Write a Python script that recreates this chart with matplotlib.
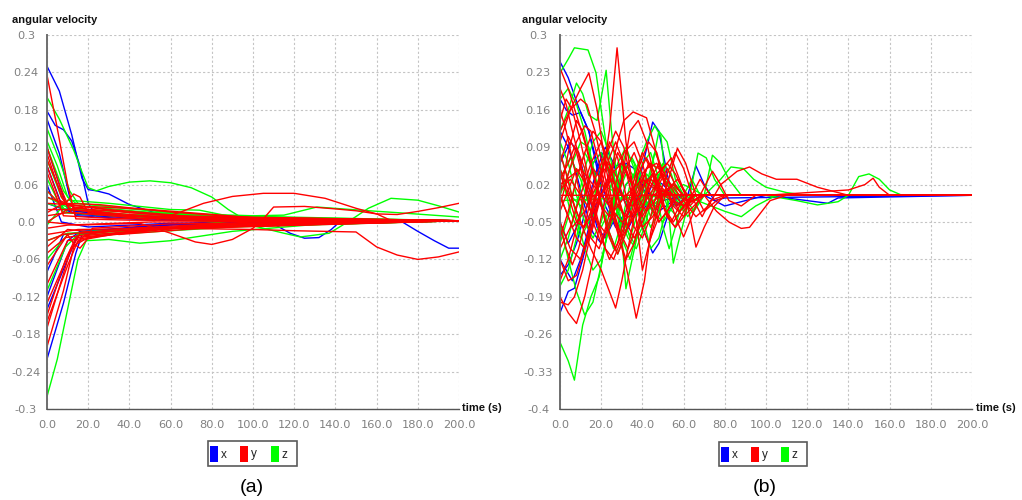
import matplotlib
matplotlib.use("Agg")
import matplotlib.pyplot as plt
from matplotlib.patches import Rectangle

# ---------------- data ----------------
x_ticks = [0, 20, 40, 60, 80, 100, 120, 140, 160, 180, 200]
x_tick_labels = ["0.0", "20.0", "40.0", "60.0", "80.0", "100.0", "120.0",
                 "140.0", "160.0", "180.0", "200.0"]

a_y_ticks = [0.3, 0.24, 0.18, 0.12, 0.06, 0.0, -0.06, -0.12, -0.18, -0.24, -0.3]
a_y_labels = ["0.3", "0.24", "0.18", "0.12", "0.06", "0.0", "-0.06", "-0.12",
              "-0.18", "-0.24", "-0.3"]
b_y_ticks = [0.3, 0.23, 0.16, 0.09, 0.02, -0.05, -0.12, -0.19, -0.26, -0.33, -0.4]
b_y_labels = ["0.3", "0.23", "0.16", "0.09", "0.02", "-0.05", "-0.12", "-0.19",
              "-0.26", "-0.33", "-0.4"]

legend_labels = ["x", "y", "z"]
series_colors = ["#0000ff", "#ff0000", "#00ff00"]

# (a) x component
a_x_lines = [
    [(0, 0.25), (6, 0.21), (12, 0.14), (17, 0.07), (20, 0.052), (24, 0.05), (30, 0.045),
     (40, 0.028), (55, 0.012), (80, 0.003), (200, 0.002)],
    [(0, 0.178), (4, 0.155), (8, 0.148), (12, 0.13), (16, 0.09), (20, 0.03), (24, 0.01),
     (60, 0.004), (200, 0.002)],
    [(0, 0.165), (6, 0.11), (11, 0.04), (14, 0.01), (50, 0.003), (200, 0.002)],
    [(0, 0.12), (5, 0.07), (10, 0.02), (40, 0.006), (200, 0.002)],
    [(0, 0.09), (8, 0.02), (30, 0.01), (200, 0.002)],
    [(0, 0.06), (7, 0.0), (20, -0.008), (60, -0.002), (200, 0.002)],
    [(0, -0.08), (8, -0.02), (30, -0.012), (80, 0.0), (200, 0.002)],
    [(0, -0.12), (10, -0.03), (16, -0.015), (60, -0.004), (200, 0.002)],
    [(0, -0.14), (10, -0.06), (15, -0.02), (50, -0.005), (200, 0.002)],
    [(0, -0.22), (8, -0.13), (14, -0.05), (17, -0.02), (40, -0.01), (200, 0.002)],
    [(0, 0.03), (15, 0.012), (60, 0.004), (110, -0.003), (118, -0.018), (125, -0.026),
     (132, -0.025), (138, -0.012), (142, 0.0), (172, 0.001), (180, -0.015), (188, -0.03),
     (195, -0.042), (200, -0.042)],
]

# (a) z component
a_z_lines = [
    [(0, 0.20), (6, 0.165), (13, 0.115), (17, 0.08), (20, 0.055), (24, 0.05), (30, 0.057),
     (40, 0.064), (50, 0.066), (60, 0.063), (70, 0.055), (80, 0.04), (88, 0.02),
     (95, 0.006), (105, 0.002), (200, 0.002)],
    [(0, 0.15), (6, 0.10), (11, 0.05), (15, 0.03), (40, 0.022), (80, 0.01), (120, 0.004),
     (200, 0.002)],
    [(0, 0.13), (5, 0.09), (10, 0.04), (14, 0.03), (50, 0.018), (100, 0.006), (200, 0.002)],
    [(0, 0.12), (8, 0.05), (13, 0.027), (60, 0.012), (200, 0.002)],
    [(0, 0.10), (7, 0.04), (12, 0.02), (40, 0.012), (200, 0.002)],
    [(0, 0.07), (8, 0.015), (50, 0.006), (200, 0.002)],
    [(0, 0.03), (10, 0.02), (30, 0.018), (70, 0.012), (100, 0.005), (200, 0.002)],
    [(0, -0.03), (10, -0.018), (40, -0.015), (80, -0.006), (200, 0.002)],
    [(0, -0.06), (10, -0.02), (20, -0.015), (60, -0.01), (200, 0.002)],
    [(0, -0.11), (9, -0.04), (15, -0.02), (40, -0.018), (90, -0.008), (200, 0.002)],
    [(0, -0.28), (5, -0.22), (10, -0.14), (15, -0.06), (19, -0.03), (30, -0.028),
     (45, -0.034), (60, -0.03), (90, -0.015), (130, -0.004), (200, 0.002)],
    [(0, 0.05), (10, 0.015), (60, 0.006), (100, -0.006), (115, -0.018), (123, -0.024),
     (137, -0.018), (146, 0.0), (156, 0.022), (167, 0.038), (180, 0.035), (190, 0.026),
     (200, 0.016)],
    [(0, 0.04), (12, 0.02), (60, 0.014), (100, 0.01), (115, 0.011), (131, 0.024),
     (152, 0.019), (170, 0.015), (200, 0.008)],
    [(0, -0.005), (10, 0.035), (30, 0.03), (60, 0.02), (74, 0.019), (95, 0.005), (200, 0.002)],
]

# (a) y component
a_y_lines = [
    [(0, 0.236), (5, 0.15), (10, 0.06), (14, 0.005), (40, 0.003), (200, 0.002)],
    [(0, 0.12), (6, 0.06), (11, 0.02), (40, 0.01), (200, 0.002)],
    [(0, 0.10), (9, 0.03), (13, 0.045), (16, 0.04), (20, 0.015), (60, 0.005), (200, 0.002)],
    [(0, 0.08), (8, 0.01), (30, 0.006), (200, 0.002)],
    [(0, 0.05), (6, 0.03), (30, 0.02), (80, 0.006), (200, 0.002)],
    [(0, 0.03), (10, 0.028), (40, 0.015), (90, 0.004), (200, 0.002)],
    [(0, 0.02), (12, 0.02), (40, 0.012), (80, 0.003), (200, 0.002)],
    [(0, 0.01), (10, 0.015), (50, 0.008), (200, 0.002)],
    [(0, -0.01), (10, -0.005), (50, 0.0), (200, 0.002)],
    [(0, -0.03), (8, -0.02), (40, -0.01), (100, 0.0), (200, 0.002)],
    [(0, -0.05), (9, -0.025), (30, -0.015), (80, -0.004), (200, 0.002)],
    [(0, -0.07), (10, -0.02), (13, -0.035), (16, -0.042), (19, -0.03), (22, -0.01),
     (60, -0.003), (200, 0.002)],
    [(0, -0.10), (10, -0.03), (30, -0.02), (70, -0.006), (200, 0.002)],
    [(0, -0.13), (12, -0.04), (20, -0.025), (60, -0.01), (200, 0.002)],
    [(0, -0.16), (10, -0.07), (15, -0.03), (40, -0.015), (100, -0.002), (200, 0.002)],
    [(0, -0.20), (8, -0.11), (13, -0.04), (18, -0.022), (50, -0.012), (200, 0.002)],
    [(0, 0.04), (12, 0.025), (40, 0.008), (52, 0.002), (64, 0.015), (76, 0.03), (90, 0.041),
     (105, 0.046), (120, 0.046), (135, 0.038), (150, 0.022), (160, 0.013), (166, 0.004),
     (200, 0.002)],
    [(0, 0.0), (15, -0.005), (45, -0.002), (60, -0.018), (72, -0.032), (80, -0.036),
     (90, -0.028), (100, -0.01), (105, 0.005), (110, 0.024), (125, 0.025), (140, 0.021),
     (150, 0.018), (160, 0.013), (170, 0.012), (180, 0.017), (190, 0.023), (200, 0.03)],
    [(0, -0.02), (15, -0.012), (60, -0.01), (100, -0.012), (120, -0.014), (150, -0.016),
     (160, -0.04), (170, -0.053), (180, -0.06), (190, -0.056), (200, -0.048)],
    [(0, 0.0), (10, 0.02), (20, 0.025), (50, 0.02), (100, 0.007), (200, 0.002)],
    [(0, 0.11), (7, 0.04), (12, 0.015), (45, 0.006), (200, 0.002)],
    [(0, 0.09), (6, 0.035), (14, 0.022), (60, 0.01), (200, 0.002)],
    [(0, -0.15), (9, -0.06), (14, -0.025), (70, -0.008), (200, 0.002)],
    [(0, -0.17), (11, -0.05), (16, -0.018), (55, -0.01), (200, 0.002)],
    [(0, 0.015), (8, 0.03), (25, 0.028), (60, 0.016), (110, 0.004), (200, 0.002)],
    [(0, -0.04), (10, -0.012), (35, -0.02), (75, -0.01), (120, -0.002), (200, 0.002)],
]

# (b) x component
b_x_lines = [
    [(0, 0.25), (4, 0.22), (9, 0.165), (14, 0.12), (18, 0.06), (22, 0.0), (26, -0.05),
     (30, -0.06), (35, -0.02), (40, 0.01), (45, 0.0), (50, -0.01), (60, 0.0), (200, 0.0)],
    [(0, 0.18), (3, 0.16), (6, 0.15), (10, 0.155), (14, 0.12), (18, 0.05), (22, -0.02),
     (27, -0.06), (32, -0.03), (38, 0.02), (45, 0.137), (48, 0.12), (52, 0.04), (56, -0.02),
     (62, 0.0), (66, 0.055), (70, 0.02), (75, -0.01), (80, -0.005), (200, 0.0)],
    [(0, -0.22), (4, -0.18), (7, -0.174), (11, -0.12), (15, -0.06), (20, 0.0), (25, 0.05),
     (30, 0.06), (35, 0.02), (40, -0.06), (45, -0.108), (48, -0.09), (53, -0.03), (58, 0.0),
     (200, 0.0)],
    [(0, -0.15), (4, -0.13), (8, -0.09), (13, -0.02), (18, 0.05), (22, 0.09), (26, 0.06),
     (30, 0.0), (35, -0.04), (40, -0.02), (46, 0.03), (50, 0.02), (55, 0.0), (200, 0.0)],
    [(0, 0.06), (5, 0.1), (9, 0.08), (14, 0.0), (18, -0.06), (22, -0.08), (27, -0.04),
     (32, 0.02), (37, 0.04), (42, 0.0), (48, -0.03), (55, -0.01), (60, 0.0), (200, 0.0)],
    [(0, -0.12), (6, -0.16), (10, -0.12), (14, -0.06), (19, 0.0), (25, 0.03), (30, 0.0),
     (35, -0.04), (40, -0.03), (45, 0.0), (70, 0.0), (80, -0.02), (90, -0.01), (100, 0.0),
     (120, -0.01), (130, -0.015), (135, -0.005), (200, 0.0)],
    [(0, 0.12), (4, 0.09), (8, 0.04), (12, -0.02), (16, -0.07), (20, -0.09), (24, -0.05),
     (28, 0.01), (32, 0.06), (36, 0.05), (40, 0.0), (45, -0.03), (50, 0.0), (200, 0.0)],
    [(0, -0.05), (4, -0.09), (8, -0.06), (12, 0.0), (16, 0.06), (20, 0.08), (24, 0.04),
     (28, -0.03), (32, -0.07), (36, -0.04), (40, 0.02), (45, 0.04), (50, 0.0), (200, 0.0)],
]

# (b) y component
b_y_lines = [
    [(0, 0.238), (4, 0.2), (8, 0.15), (12, 0.1), (16, 0.04), (20, -0.02), (24, -0.08),
     (28, -0.11), (32, -0.07), (37, 0.0), (42, 0.05), (47, 0.06), (52, 0.02), (57, -0.02),
     (62, 0.0), (200, 0.0)],
    [(0, 0.1), (5, 0.16), (10, 0.2), (14, 0.229), (18, 0.16), (22, 0.06), (26, -0.03),
     (30, -0.08), (34, -0.05), (38, 0.0), (42, 0.03), (48, 0.01), (55, 0.0), (200, 0.0)],
    [(0, 0.0), (6, -0.06), (12, -0.03), (18, 0.02), (22, 0.07), (24, 0.122), (27.7, 0.276),
     (32, 0.1), (36, 0.0), (40, -0.06), (45, -0.04), (50, 0.0), (55, 0.02), (60, 0.0),
     (200, 0.0)],
    [(0, -0.05), (5, -0.1), (10, -0.12), (15, -0.06), (20, 0.0), (25, 0.05), (28, 0.1),
     (31, 0.14), (35.5, 0.156), (42, 0.145), (46, 0.09), (50, 0.03), (55, -0.02),
     (60, -0.04), (65, -0.02), (70, 0.0), (200, 0.0)],
    [(0, -0.19), (4, -0.22), (8, -0.24), (12, -0.19), (16, -0.12), (20, -0.04), (24, 0.03),
     (28, 0.08), (32, 0.05), (37, 0.0), (42, -0.03), (48, 0.0), (200, 0.0)],
    [(0, -0.2), (4, -0.205), (7, -0.19), (11, -0.14), (15, -0.07), (19, 0.0), (23, 0.06),
     (27, 0.1), (31, 0.06), (35, 0.0), (40, -0.04), (45, 0.0), (50, 0.01), (56, 0.0),
     (200, 0.0)],
    [(0, 0.05), (5, 0.0), (10, -0.05), (15, -0.1), (20, -0.14), (24, -0.18), (27, -0.211),
     (30, -0.16), (34, -0.08), (38, 0.0), (43, 0.06), (48, 0.05), (53, 0.0), (58, -0.03),
     (64, -0.01), (70, 0.0), (200, 0.0)],
    [(0, 0.12), (5, 0.16), (10, 0.18), (13, 0.17), (17, 0.12), (21, 0.05), (25, -0.02),
     (29, -0.08), (33, -0.15), (37, -0.23), (41, -0.16), (44, -0.07), (48, 0.0), (52, 0.04),
     (56, 0.08), (60, 0.05), (65, -0.01), (69, -0.04), (73, -0.01), (80, 0.0), (200, 0.0)],
    [(0, 0.0), (4, 0.08), (8, 0.14), (11, 0.12), (15, 0.06), (19, 0.0), (23, -0.06),
     (27, -0.1), (31, -0.06), (35, 0.0), (39, 0.06), (43, 0.1), (47, 0.08), (51, 0.02),
     (56, -0.04), (60, -0.078), (64, -0.04), (68, 0.0), (74, 0.045), (78, 0.02),
     (82, -0.01), (88, -0.02), (95, 0.0), (200, 0.0)],
    [(0, -0.08), (4, -0.03), (8, 0.03), (12, 0.08), (16, 0.12), (20, 0.1), (24, 0.04),
     (28, -0.02), (32, -0.04), (36, 0.0), (40, 0.04), (44, 0.06), (48, 0.02), (52, -0.04),
     (56, -0.06), (60, -0.04), (64, 0.0), (68, 0.03), (73, 0.0), (200, 0.0)],
    [(0, 0.0), (4, -0.04), (8, -0.08), (12, -0.1), (16, -0.06), (20, 0.0), (25, 0.04),
     (30, 0.06), (35, 0.02), (40, -0.14), (44, -0.08), (48, -0.02), (52, 0.02), (57, 0.088),
     (61, 0.06), (66, 0.0), (70, -0.03), (76, -0.01), (82, 0.0), (200, 0.0)],
    [(0, 0.03), (4, 0.06), (8, 0.1), (12, 0.13), (15, 0.12), (19, 0.06), (23, 0.0),
     (28, -0.06), (33, -0.1), (37, -0.06), (42, 0.0), (47, 0.04), (52, 0.06), (56, 0.04),
     (61, 0.0), (66, -0.097), (70, -0.06), (75, -0.02), (80, 0.0), (200, 0.0)],
    [(0, 0.02), (10, 0.05), (20, 0.0), (30, -0.05), (40, -0.02), (50, 0.04), (58, 0.0),
     (66, -0.04), (72, -0.02), (78, 0.02), (86, 0.045), (92, 0.053), (98, 0.04),
     (105, 0.03), (115, 0.03), (125, 0.015), (135, 0.005), (140, 0.0), (200, 0.0)],
    [(0, -0.03), (8, 0.05), (16, 0.0), (24, -0.04), (32, 0.0), (40, 0.03), (50, 0.0),
     (60, -0.02), (70, 0.0), (76, -0.03), (82, -0.05), (88, -0.062), (92, -0.06),
     (96, -0.04), (102, -0.01), (110, 0.0), (200, 0.0)],
    [(0, 0.0), (100, 0.0), (120, 0.005), (140, 0.01), (148, 0.02), (152, 0.032),
     (155, 0.015), (160, 0.0), (200, 0.0)],
    [(0, -0.1), (5, -0.06), (10, 0.0), (15, 0.06), (20, 0.1), (24, 0.06), (28, 0.0),
     (32, -0.05), (36, -0.08), (40, -0.05), (45, 0.0), (50, 0.05), (54, 0.07), (58, 0.03),
     (63, -0.02), (68, 0.0), (200, 0.0)],
    [(0, 0.16), (3, 0.12), (7, 0.05), (11, -0.02), (15, -0.08), (19, -0.1), (23, -0.05),
     (27, 0.02), (31, 0.08), (36, 0.1), (40, 0.06), (44, 0.0), (48, -0.05), (52, -0.03),
     (56, 0.0), (200, 0.0)],
    [(0, 0.2), (3, 0.17), (6, 0.12), (10, 0.06), (14, 0.0), (18, -0.05), (22, -0.07),
     (26, -0.03), (30, 0.03), (34, 0.12), (38, 0.14), (42, 0.1), (46, 0.03), (50, -0.02),
     (54, -0.05), (58, -0.02), (62, 0.0), (200, 0.0)],
    [(0, 0.01), (5, 0.03), (10, 0.0), (15, -0.03), (20, 0.0), (25, 0.03), (30, 0.0),
     (35, -0.02), (40, 0.0), (200, 0.0)],
    [(0, -0.06), (3, -0.1), (6, -0.13), (9, -0.1), (13, -0.04), (17, 0.03), (21, 0.07),
     (25, 0.04), (29, -0.02), (33, -0.06), (37, -0.03), (41, 0.02), (45, 0.04), (50, 0.0),
     (200, 0.0)],
    [(0, 0.08), (3, 0.04), (7, -0.02), (11, -0.06), (15, -0.04), (19, 0.02), (23, 0.08),
     (27, 0.12), (31, 0.09), (35, 0.02), (39, -0.05), (43, -0.09), (47, -0.05), (52, 0.01),
     (57, 0.03), (62, 0.0), (200, 0.0)],
    [(0, -0.12), (4, -0.16), (8, -0.15), (12, -0.1), (16, -0.03), (20, 0.04), (24, 0.1),
     (28, 0.07), (32, 0.0), (36, -0.06), (40, -0.08), (44, -0.04), (48, 0.02), (52, 0.05),
     (56, 0.02), (61, -0.01), (66, 0.0), (200, 0.0)],
    [(0, 0.14), (3, 0.18), (6, 0.16), (10, 0.1), (14, 0.03), (18, -0.04), (22, -0.1),
     (26, -0.12), (30, -0.08), (34, -0.02), (38, 0.04), (42, 0.07), (46, 0.04), (50, -0.02),
     (55, -0.05), (60, -0.02), (65, 0.0), (200, 0.0)],
    [(0, -0.02), (4, 0.04), (8, 0.09), (12, 0.05), (16, -0.02), (20, -0.08), (24, -0.12),
     (28, -0.09), (32, -0.03), (36, 0.03), (40, 0.08), (44, 0.05), (48, 0.0), (52, -0.04),
     (56, -0.06), (60, -0.03), (65, 0.0), (200, 0.0)],
    [(0, 0.04), (4, 0.0), (8, -0.05), (12, -0.06), (16, -0.02), (20, 0.04), (24, 0.06),
     (28, 0.03), (32, -0.02), (36, -0.04), (40, -0.01), (44, 0.03), (48, 0.02), (53, 0.0),
     (200, 0.0)],
    [(0, -0.16), (4, -0.12), (8, -0.06), (12, 0.0), (16, 0.05), (20, 0.03), (24, -0.02),
     (28, -0.07), (32, -0.12), (36, -0.09), (40, -0.03), (44, 0.03), (48, 0.06), (52, 0.03),
     (56, 0.0), (60, -0.02), (64, 0.0), (200, 0.0)],
    [(0, 0.06), (4, 0.11), (8, 0.08), (12, 0.02), (16, -0.05), (20, -0.09), (24, -0.06),
     (28, 0.0), (32, 0.05), (36, 0.08), (40, 0.04), (44, -0.02), (48, -0.05), (52, -0.03),
     (57, 0.0), (200, 0.0)],
]

# (b) z component
b_z_lines = [
    [(0, 0.229), (4, 0.255), (7, 0.276), (13.6, 0.272), (17.5, 0.229), (20, 0.16),
     (23, 0.08), (26, 0.0), (30, -0.08), (34, -0.12), (38, -0.06), (42, 0.02), (46, 0.08),
     (50, 0.05), (55, 0.0), (60, -0.03), (66, 0.0), (200, 0.0)],
    [(0, -0.275), (4, -0.31), (7, -0.346), (11, -0.243), (15, -0.19), (19, -0.153),
     (23, -0.07), (27, 0.0), (31, 0.06), (35, 0.04), (40, 0.0), (45, -0.03), (50, 0.0),
     (200, 0.0)],
    [(0, 0.12), (4, 0.16), (8, 0.21), (11, 0.19), (14, 0.15), (18, 0.14), (22.4, 0.234),
     (25, 0.12), (28, 0.02), (32, -0.175), (35, -0.12), (39, -0.05), (43, 0.02), (48, 0.12),
     (52, 0.1), (56, 0.03), (60, 0.0), (200, 0.0)],
    [(0, -0.05), (4, -0.12), (8, -0.18), (12, -0.224), (16, -0.2), (20, -0.13), (24, -0.05),
     (28, 0.03), (32, 0.08), (36, 0.06), (40, 0.0), (44, -0.04), (49, 0.0), (55, 0.02),
     (60, 0.0), (200, 0.0)],
    [(0, 0.0), (5, 0.05), (10, 0.1), (14, 0.09), (18, 0.02), (22, -0.05), (26, -0.1),
     (30, -0.05), (34, 0.02), (38, 0.06), (42, 0.1), (46, 0.13), (49, 0.11), (52, 0.0),
     (55, -0.127), (58, -0.08), (62, -0.02), (67, 0.079), (71, 0.07), (75, 0.03), (80, 0.0),
     (200, 0.0)],
    [(0, 0.08), (4, 0.03), (8, -0.04), (12, -0.1), (16, -0.14), (20, -0.12), (24, -0.06),
     (28, 0.0), (32, 0.04), (36, 0.02), (40, -0.04), (44, -0.1), (48, -0.08), (52, -0.02),
     (56, 0.02), (60, 0.0), (65, -0.03), (70, 0.0), (74, 0.075), (78, 0.06), (82, 0.03),
     (88, 0.0), (200, 0.0)],
    [(0, -0.12), (4, -0.08), (8, -0.02), (12, 0.05), (16, 0.1), (20, 0.12), (24, 0.08),
     (28, 0.0), (32, -0.06), (36, -0.09), (40, -0.06), (44, 0.0), (48, 0.04), (53, 0.02),
     (58, 0.0), (200, 0.0)],
    [(0, 0.02), (10, -0.02), (20, 0.02), (30, 0.0), (40, -0.02), (50, 0.0), (60, 0.02),
     (70, 0.0), (78, 0.03), (83, 0.053), (89, 0.05), (94, 0.03), (100, 0.015), (110, 0.005),
     (120, 0.0), (200, 0.0)],
    [(0, -0.01), (60, 0.0), (100, 0.0), (115, -0.01), (125, -0.018), (135, -0.012),
     (140, 0.0), (145, 0.035), (150, 0.04), (155, 0.03), (160, 0.01), (166, 0.0), (200, 0.0)],
    [(0, 0.18), (4, 0.2), (8, 0.17), (12, 0.12), (16, 0.05), (20, -0.02), (24, -0.06),
     (28, -0.03), (32, 0.02), (36, 0.04), (40, 0.01), (45, -0.02), (50, 0.0), (200, 0.0)],
    [(0, -0.17), (4, -0.14), (8, -0.08), (12, 0.0), (16, 0.06), (20, 0.08), (24, 0.04),
     (28, -0.03), (33, -0.08), (37, -0.1), (41, -0.06), (45, 0.0), (50, 0.06), (54, 0.04),
     (58, -0.01), (62, -0.04), (66, -0.02), (70, 0.0), (200, 0.0)],
    [(0, 0.05), (5, -0.03), (10, -0.08), (14, -0.05), (18, 0.02), (22, 0.08), (26, 0.04),
     (30, -0.03), (34, -0.08), (38, -0.03), (42, 0.04), (46, 0.02), (50, -0.06), (53, -0.1),
     (56, -0.06), (60, 0.0), (64, 0.03), (68, 0.0), (200, 0.0)],
    [(0, 0.1), (4, 0.06), (8, 0.0), (12, -0.05), (16, -0.08), (20, -0.05), (24, 0.01),
     (28, 0.06), (32, 0.09), (36, 0.05), (40, -0.02), (44, -0.06), (48, -0.03), (52, 0.02),
     (57, 0.0), (200, 0.0)],
    [(0, -0.09), (4, -0.04), (8, 0.03), (12, 0.08), (16, 0.05), (20, -0.01), (24, -0.07),
     (28, -0.11), (32, -0.07), (36, 0.0), (40, 0.06), (44, 0.08), (48, 0.03), (52, -0.02),
     (57, -0.04), (62, 0.0), (200, 0.0)],
    [(0, 0.03), (5, 0.07), (10, 0.03), (15, -0.03), (20, -0.06), (25, -0.02), (30, 0.04),
     (35, 0.07), (40, 0.03), (45, -0.03), (50, -0.05), (55, -0.02), (60, 0.0), (80, -0.03),
     (88, -0.04), (95, -0.02), (105, 0.0), (200, 0.0)],
]

# ---------------- drawing ----------------
W, H = 1022, 500
fig = plt.figure(figsize=(W / 100, H / 100), dpi=100)
fig.patch.set_facecolor("white")

tick_font = dict(family="DejaVu Sans", size=8.2, color="#808080")
label_family = ["Liberation Sans", "DejaVu Sans"]


def px_axes(x0, x1, ytop, ybot):
    return fig.add_axes([x0 / W, 1 - ybot / H, (x1 - x0) / W, (ybot - ytop) / H])


def style_axes(ax, yticks, ylabels, ylim, ypad):
    ax.set_xlim(0, 200)
    ax.set_ylim(*ylim)
    ax.set_xticks(x_ticks)
    ax.set_xticklabels(x_tick_labels, **tick_font)
    ax.set_yticks(yticks)
    ax.set_yticklabels(ylabels, **tick_font)
    for lab in ax.get_yticklabels():
        lab.set_horizontalalignment("center")
    ax.tick_params(axis="y", length=0, pad=ypad)
    ax.tick_params(axis="x", length=0, pad=8)
    ax.grid(True, color="#c4c4c4", linestyle=(0, (2, 2)), linewidth=0.8)
    ax.set_axisbelow(True)
    ax.spines["top"].set_visible(False)
    ax.spines["right"].set_visible(False)
    ax.spines["left"].set_color("#6e6e6e")
    ax.spines["left"].set_linewidth(1.4)
    ax.spines["bottom"].set_color("#555555")
    ax.spines["bottom"].set_linewidth(1.0)


def draw_lines(ax, lines, color):
    for ln in lines:
        ts = [p[0] for p in ln]
        vs = [p[1] for p in ln]
        ax.plot(ts, vs, color=color, linewidth=1.0, solid_joinstyle="round")


axA = px_axes(47, 459, 35, 409)
style_axes(axA, a_y_ticks, a_y_labels, (-0.3, 0.3), 15.1)
draw_lines(axA, a_x_lines, series_colors[0])
draw_lines(axA, a_z_lines, series_colors[2])
draw_lines(axA, a_y_lines, series_colors[1])

axB = px_axes(560, 972, 35, 409)
style_axes(axB, b_y_ticks, b_y_labels, (-0.4, 0.3), 15.8)
draw_lines(axB, b_x_lines, series_colors[0])
draw_lines(axB, b_z_lines, series_colors[2])
draw_lines(axB, b_y_lines, series_colors[1])


def ftext(x, y, s, **kw):
    fig.text(x / W, 1 - y / H, s, **kw)


# axis titles
ftext(12, 20, "angular velocity", ha="left", va="center", fontsize=8,
      fontweight="bold", family=label_family, color="#111111")
ftext(522, 20, "angular velocity", ha="left", va="center", fontsize=8,
      fontweight="bold", family=label_family, color="#111111")
ftext(462, 408, "time (s)", ha="left", va="center", fontsize=8,
      fontweight="bold", family=label_family, color="#111111")
ftext(976, 408, "time (s)", ha="left", va="center", fontsize=8,
      fontweight="bold", family=label_family, color="#111111")


def legend_box(x0, y0, x1, y1, patch_x, text_x):
    fig.patches.append(Rectangle((x0 / W, 1 - y1 / H), (x1 - x0) / W, (y1 - y0) / H,
                                 transform=fig.transFigure, facecolor="white",
                                 edgecolor="#5a5a5a", linewidth=1.2))
    for px, tx, col, lab in zip(patch_x, text_x, series_colors, legend_labels):
        fig.patches.append(Rectangle((px / W, 1 - (y1 - 4) / H), 8 / W, (y1 - y0 - 9) / H,
                                     transform=fig.transFigure, facecolor=col,
                                     edgecolor="none"))
        ftext(tx, (y0 + y1) / 2 + 1, lab, ha="left", va="center", fontsize=8.5,
              family=label_family, color="#222222")


legend_box(208, 441, 297, 466, [210, 240, 271], [221, 251, 282])
legend_box(719, 442, 807, 466, [721, 751, 781], [732, 762, 792])

ftext(252, 487, "(a)", ha="center", va="center", fontsize=14, family=label_family,
      color="#000000")
ftext(765, 487, "(b)", ha="center", va="center", fontsize=14, family=label_family,
      color="#000000")

fig.savefig("out.png", dpi=100, facecolor="white")
